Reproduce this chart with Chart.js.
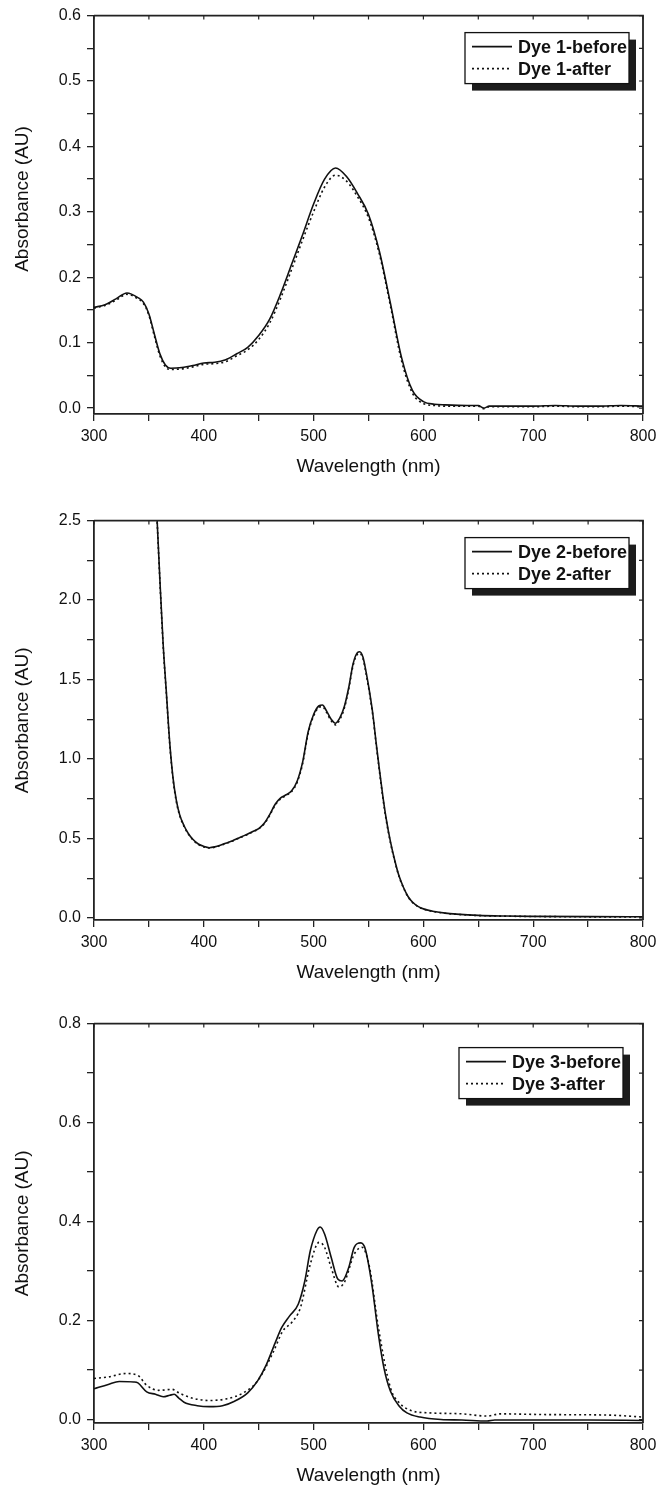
<!DOCTYPE html>
<html>
<head>
<meta charset="utf-8">
<script src="https://cdn.jsdelivr.net/npm/chart.js@4.4.1/dist/chart.umd.min.js"></script>
<style>
    body { margin: 0; background: #fff; }
    #wrap { position: relative; width: 659px; height: 1489px; }
    canvas { position: absolute; left: 0; }
</style>
</head>
<body>
<div id="wrap">
    <canvas id="chart1" width="659" height="496" style="top:0px;width:659px;height:496px"></canvas>
    <canvas id="chart2" width="659" height="497" style="top:505px;width:659px;height:497px"></canvas>
    <canvas id="chart3" width="659" height="497" style="top:1008px;width:659px;height:497px"></canvas>
</div>
<script>
// Shared x axis ticks (nm)
const xTicks = [300, 350, 400, 450, 500, 550, 600, 650, 700, 750, 800];
const xLabels = [300, 400, 500, 600, 700, 800];

// Panel 1 - Dye 1
const wl1 = [300, 310, 320, 330, 340, 345, 350, 355, 360, 365, 370, 380, 390, 400, 410, 420, 430, 440, 450, 460,
    470, 480, 490, 500, 510, 520, 530, 540, 550, 560, 570, 580, 590, 600, 610, 620, 640, 650, 655, 660,
    680, 700, 720, 740, 760, 780, 800];
const dye1Before = [0.154, 0.158, 0.167, 0.176, 0.169, 0.162, 0.144, 0.113, 0.083, 0.066, 0.061, 0.062, 0.065, 0.069, 0.070, 0.074, 0.083, 0.093, 0.111, 0.136,
    0.175, 0.220, 0.265, 0.312, 0.350, 0.367, 0.354, 0.328, 0.296, 0.239, 0.160, 0.078, 0.027, 0.010, 0.006, 0.005, 0.004, 0.004, 0.000, 0.003,
    0.003, 0.003, 0.004, 0.003, 0.003, 0.004, 0.003];
const dye1After = [0.153, 0.157, 0.165, 0.174, 0.167, 0.160, 0.142, 0.110, 0.080, 0.063, 0.059, 0.060, 0.063, 0.067, 0.068, 0.071, 0.080, 0.089, 0.105, 0.130,
    0.168, 0.212, 0.257, 0.300, 0.338, 0.356, 0.347, 0.323, 0.291, 0.235, 0.156, 0.073, 0.023, 0.007, 0.004, 0.003, 0.003, 0.003, -0.001, 0.002,
    0.002, 0.002, 0.003, 0.002, 0.002, 0.003, 0.002];
const y1Ticks = [0, 0.05, 0.1, 0.15, 0.2, 0.25, 0.3, 0.35, 0.4, 0.45, 0.5, 0.55, 0.6];
const y1Labels = [0, 0.1, 0.2, 0.3, 0.4, 0.5, 0.6];

// Panel 2 - Dye 2
const wl2 = [355, 357.5, 360, 363, 366, 369, 372, 375, 378, 382, 386, 390, 395, 400, 405, 410, 415, 420, 425, 430,
    435, 440, 445, 450, 455, 460, 465, 470, 475, 480, 485, 490, 495, 500, 505, 508, 512, 516, 520, 524,
    528, 532, 536, 540, 542, 545, 548, 551, 554, 557, 560, 563, 566, 570, 574, 578, 582, 586, 590, 595,
    600, 610, 620, 630, 650, 675, 700, 750, 800];
const dye2Before = [2.90, 2.50, 2.13, 1.72, 1.41, 1.10, 0.88, 0.74, 0.65, 0.58, 0.53, 0.495, 0.465, 0.450, 0.442, 0.447, 0.457, 0.470, 0.482, 0.498,
    0.513, 0.528, 0.545, 0.562, 0.595, 0.650, 0.715, 0.755, 0.775, 0.800, 0.860, 0.980, 1.170, 1.280, 1.335, 1.340, 1.300, 1.250, 1.225, 1.260,
    1.330, 1.450, 1.600, 1.670, 1.675, 1.640, 1.540, 1.420, 1.280, 1.100, 0.930, 0.770, 0.630, 0.480, 0.360, 0.260, 0.190, 0.135, 0.100, 0.073,
    0.057, 0.040, 0.030, 0.024, 0.016, 0.012, 0.010, 0.008, 0.007];
const dye2After = [2.90, 2.50, 2.12, 1.71, 1.40, 1.09, 0.87, 0.73, 0.645, 0.575, 0.527, 0.492, 0.462, 0.447, 0.440, 0.445, 0.455, 0.468, 0.480, 0.496,
    0.511, 0.526, 0.543, 0.560, 0.592, 0.645, 0.710, 0.750, 0.770, 0.795, 0.853, 0.970, 1.160, 1.270, 1.325, 1.330, 1.290, 1.240, 1.215, 1.250,
    1.320, 1.440, 1.590, 1.660, 1.665, 1.630, 1.530, 1.410, 1.270, 1.090, 0.920, 0.760, 0.620, 0.472, 0.355, 0.256, 0.187, 0.132, 0.098, 0.071,
    0.055, 0.039, 0.029, 0.023, 0.015, 0.011, 0.009, 0.007, 0.006];
const y2Ticks = [0, 0.25, 0.5, 0.75, 1.0, 1.25, 1.5, 1.75, 2.0, 2.25, 2.5];
const y2Labels = [0, 0.5, 1.0, 1.5, 2.0, 2.5];

// Panel 3 - Dye 3
const wl3Before = [300, 313, 323, 336, 340, 348, 356, 363, 369, 373, 377, 382, 394, 405, 417, 428, 440, 449, 457, 465,
    471, 478, 486, 492, 497, 503, 506, 510, 516, 522, 526, 532, 537, 543, 547, 553, 559, 564, 570, 578,
    585, 597, 616, 635, 658, 665, 700, 750, 800];
const dye3Before = [0.062, 0.071, 0.077, 0.076, 0.074, 0.056, 0.051, 0.046, 0.049, 0.051, 0.044, 0.035, 0.028, 0.026, 0.028, 0.037, 0.054, 0.078, 0.111, 0.155,
    0.186, 0.209, 0.233, 0.280, 0.341, 0.382, 0.389, 0.375, 0.328, 0.284, 0.280, 0.307, 0.348, 0.357, 0.345, 0.274, 0.172, 0.105, 0.057, 0.027,
    0.0135, 0.005, 0.000, -0.001, -0.003, -0.001, -0.001, -0.001, -0.002];
const wl3After = [300, 313, 329, 340, 348, 359, 371, 378, 390, 405, 421, 436, 449, 463, 472, 480, 488, 497, 505, 510,
    516, 523, 528, 537, 544, 551, 559, 570, 578, 589, 605, 635, 658, 670, 712, 769, 800];
const dye3After = [0.083, 0.086, 0.093, 0.089, 0.069, 0.059, 0.061, 0.053, 0.043, 0.0385, 0.042, 0.054, 0.078, 0.135, 0.179, 0.196, 0.226, 0.314, 0.358, 0.348,
    0.307, 0.268, 0.277, 0.334, 0.348, 0.307, 0.186, 0.064, 0.034, 0.018, 0.0135, 0.0115, 0.007, 0.0115, 0.010, 0.009, 0.005];
const y3Ticks = [0, 0.1, 0.2, 0.3, 0.4, 0.5, 0.6, 0.7, 0.8];
const y3Labels = [0, 0.2, 0.4, 0.6, 0.8];

const FONT = "'Liberation Sans', Arial, sans-serif";
const INK = '#111';
const AXIS = '#222';

function toPoints(xs, ys) {
    return xs.map((x, i) => ({ x: x, y: ys[i] }));
}

function isLabel(list, v) {
    return list.some(l => Math.abs(l - v) < 1e-9);
}

// Top/right frame with inward ticks, plus the boxed legend with drop shadow
const framePlugin = {
    id: 'frame',
    afterDraw(chart, args, opts) {
        const { ctx, chartArea: a, scales } = chart;
        ctx.save();
        ctx.strokeStyle = AXIS;
        ctx.lineWidth = 1.8;
        ctx.beginPath();
        ctx.moveTo(a.left, a.top);
        ctx.lineTo(a.right, a.top);
        ctx.lineTo(a.right, a.bottom);
        ctx.stroke();

        ctx.lineWidth = 1.2;
        ctx.beginPath();
        xTicks.forEach(v => {
            const px = scales.x.getPixelForValue(v);
            ctx.moveTo(px, a.top);
            ctx.lineTo(px, a.top + 4);
        });
        opts.yTicks.forEach(v => {
            const py = scales.y.getPixelForValue(v);
            ctx.moveTo(a.right, py);
            ctx.lineTo(a.right - 4, py);
        });
        ctx.stroke();

        // legend
        const w = 164, h = 51;
        const bx = a.right - opts.legendRight - w;
        const by = a.top + opts.legendTop;
        ctx.fillStyle = '#1c1c1c';
        ctx.fillRect(bx + 7, by + 7, w, h);
        ctx.fillStyle = '#fff';
        ctx.fillRect(bx, by, w, h);
        ctx.strokeStyle = INK;
        ctx.lineWidth = 1.3;
        ctx.strokeRect(bx, by, w, h);

        ctx.font = 'bold 18px ' + FONT;
        ctx.textBaseline = 'middle';
        chart.data.datasets.forEach((ds, i) => {
            const ly = by + 14 + i * 22;
            ctx.strokeStyle = INK;
            ctx.lineWidth = ds.borderWidth;
            ctx.setLineDash(ds.borderDash || []);
            ctx.beginPath();
            ctx.moveTo(bx + 7, ly);
            ctx.lineTo(bx + 47, ly);
            ctx.stroke();
            ctx.setLineDash([]);
            ctx.fillStyle = INK;
            ctx.fillText(ds.label, bx + 53, ly + 1);
        });
        ctx.restore();
    }
};

function makeChart(id, p) {
    new Chart(document.getElementById(id), {
        type: 'line',
        data: {
            datasets: [
                {
                    label: p.names[0],
                    data: p.before,
                    borderColor: INK,
                    borderWidth: 1.6,
                    pointRadius: 0,
                    cubicInterpolationMode: 'monotone'
                },
                {
                    label: p.names[1],
                    data: p.after,
                    borderColor: INK,
                    borderWidth: 1.6,
                    borderDash: [2, 3],
                    pointRadius: 0,
                    cubicInterpolationMode: 'monotone'
                }
            ]
        },
        options: {
            responsive: false,
            animation: false,
            layout: { padding: { top: 15, right: 16, left: 0, bottom: 0 } },
            plugins: {
                legend: { display: false },
                tooltip: { enabled: false },
                frame: { yTicks: p.yTicks, legendRight: p.legendRight, legendTop: p.legendTop }
            },
            scales: {
                x: {
                    type: 'linear',
                    min: 300,
                    max: 800,
                    afterBuildTicks: s => { s.ticks = xTicks.map(v => ({ value: v })); },
                    afterFit: s => { s.height = 82; s.paddingLeft = 0; s.paddingRight = 0; },
                    border: { display: true, color: AXIS, width: 1.8 },
                    grid: { display: true, drawOnChartArea: false, drawTicks: true, tickLength: 7, color: AXIS, lineWidth: 1.3 },
                    ticks: {
                        padding: 6,
                        color: INK,
                        font: { family: FONT, size: 16 },
                        maxRotation: 0,
                        autoSkip: false,
                        callback: v => isLabel(xLabels, v) ? String(v) : ''
                    },
                    title: {
                        display: true,
                        text: 'Wavelength (nm)',
                        color: INK,
                        font: { family: FONT, size: 19 },
                        padding: { top: 0, bottom: 18 }
                    }
                },
                y: {
                    type: 'linear',
                    min: p.yMin,
                    max: p.yMax,
                    afterBuildTicks: s => { s.ticks = p.yTicks.map(v => ({ value: v })); },
                    afterFit: s => { s.width = 94; },
                    border: { display: true, color: AXIS, width: 1.8 },
                    grid: { display: true, drawOnChartArea: false, drawTicks: true, tickLength: 7, color: AXIS, lineWidth: 1.3 },
                    ticks: {
                        padding: 6,
                        color: INK,
                        font: { family: FONT, size: 16 },
                        autoSkip: false,
                        callback: v => isLabel(p.yLabels, v) ? v.toFixed(1) : ''
                    },
                    title: {
                        display: true,
                        text: ' '.repeat(p.titleShift) + 'Absorbance (AU)',
                        color: INK,
                        font: { family: FONT, size: 19 },
                        padding: { top: 11, bottom: 0 }
                    }
                }
            }
        },
        plugins: [framePlugin]
    });
}

makeChart('chart1', {
    names: ['Dye 1-before', 'Dye 1-after'],
    before: toPoints(wl1, dye1Before),
    after: toPoints(wl1, dye1After),
    yMin: -0.009, yMax: 0.6,
    yTicks: y1Ticks, yLabels: y1Labels,
    legendRight: 14, legendTop: 17, titleShift: 6
});

makeChart('chart2', {
    names: ['Dye 2-before', 'Dye 2-after'],
    before: toPoints(wl2, dye2Before),
    after: toPoints(wl2, dye2After),
    yMin: -0.013, yMax: 2.5,
    yTicks: y2Ticks, yLabels: y2Labels,
    legendRight: 14, legendTop: 17, titleShift: 0
});

makeChart('chart3', {
    names: ['Dye 3-before', 'Dye 3-after'],
    before: toPoints(wl3Before, dye3Before),
    after: toPoints(wl3After, dye3After),
    yMin: -0.007, yMax: 0.8,
    yTicks: y3Ticks, yLabels: y3Labels,
    legendRight: 20, legendTop: 24, titleShift: 0
});
</script>
</body>
</html>
